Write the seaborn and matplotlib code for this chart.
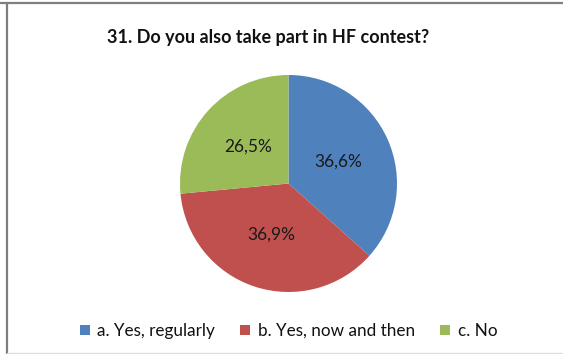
import matplotlib
matplotlib.use("Agg")
import matplotlib.pyplot as plt
import seaborn as sns
from matplotlib.lines import Line2D
from matplotlib.patches import Patch

# Survey answers and their shares (percent)
categories = ["a. Yes, regularly", "b. Yes, now and then", "c. No"]
shares = [36.6, 36.9, 26.5]
slice_colors = ["#4F81BD", "#C0504D", "#9BBB59"]
title = "31. Do you also take part in HF contest?"

sns.set_theme(style="white")
plt.rcParams["font.family"] = ["Lato", "DejaVu Sans"]

palette = sns.color_palette(slice_colors)

fig = plt.figure(figsize=(5.63, 3.54), dpi=100)
fig.patch.set_facecolor("white")

# Pie axes placed so the disc sits in the middle of the frame
R_px = 108.5
cx, cy = 288.5, 183.5
W, H = 563, 354
ax = fig.add_axes([(cx - R_px) / W, 1 - (cy + R_px) / H, 2 * R_px / W, 2 * R_px / H])

wedges, _, autotexts = ax.pie(
    shares,
    colors=palette,
    startangle=90,
    counterclock=False,
    autopct=lambda p: f"{p:.1f}%".replace(".", ","),
    pctdistance=0.5,
    wedgeprops=dict(linewidth=0),
    textprops=dict(fontsize=12.5, color="#1a1a1a"),
)
ax.set_aspect("equal")
ax.set_xlim(-1, 1)
ax.set_ylim(-1, 1)

fig.text(268 / W, 1 - 38 / H, title, ha="center", va="center",
         fontsize=13, fontweight="bold", color="#111111")

handles = [Patch(facecolor=c, edgecolor="none") for c in palette]
fig.legend(handles, categories, loc="center", bbox_to_anchor=(288.5 / W, 1 - 331 / H),
           ncol=3, frameon=False, fontsize=12.3, handlelength=0.6, handleheight=0.6,
           handletextpad=0.45, columnspacing=1.45, labelcolor="#111111")

# Outer frame lines
fig.add_artist(Line2D([0, 1], [1 - 3 / H, 1 - 3 / H], color="#7f7f7f", linewidth=1.6,
                      transform=fig.transFigure))
fig.add_artist(Line2D([7 / W, 7 / W], [0, 1 - 3 / H], color="#7f7f7f", linewidth=1.6,
                      transform=fig.transFigure))
fig.add_artist(Line2D([7 / W, 1], [1 / H, 1 / H], color="#dddddd", linewidth=1.0,
                      transform=fig.transFigure))

fig.savefig("out.png", dpi=100, facecolor="white")
